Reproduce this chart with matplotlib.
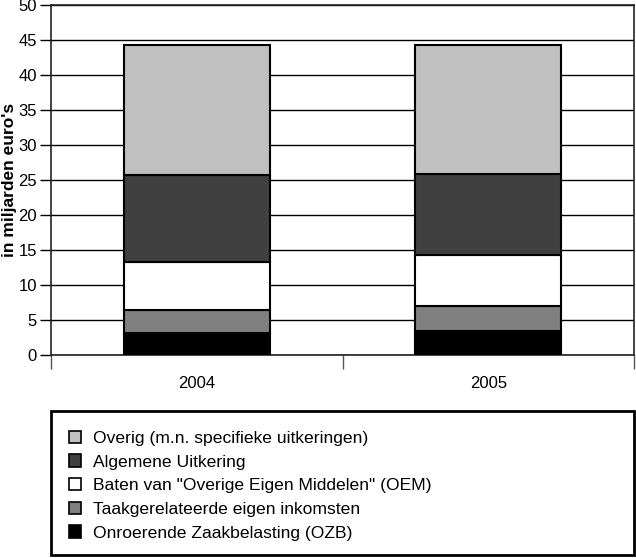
import matplotlib.pyplot as plt
from matplotlib.patches import Rectangle, Patch
import numpy as np

plt.rcParams['font.family'] = ['Liberation Sans', 'DejaVu Sans']

jaren = ['2004', '2005']
ozb = [3.1, 3.5]
taak = [3.3, 3.5]
oem = [6.9, 7.3]
algemeen = [12.4, 11.5]
overig = [18.6, 18.5]

reeksen = [
    ('Onroerende Zaakbelasting (OZB)', ozb, '#000000'),
    ('Taakgerelateerde eigen inkomsten', taak, '#808080'),
    ('Baten van "Overige Eigen Middelen" (OEM)', oem, '#ffffff'),
    ('Algemene Uitkering', algemeen, '#404040'),
    ('Overig (m.n. specifieke uitkeringen)', overig, '#c0c0c0'),
]

fig = plt.figure(figsize=(6.36, 5.58), dpi=100)
ax = fig.add_axes([51/636, 1-355/558, 583/636, 350/558])

x = np.arange(len(jaren))
onder = np.zeros(len(jaren))
for naam, waarden, kleur in reeksen:
    ax.bar(x, waarden, 0.5, bottom=onder, color=kleur, edgecolor='black',
           linewidth=1.5, zorder=3)
    onder += np.array(waarden)

ax.set_xlim(-0.5, 1.5)
ax.set_ylim(0, 50)
ax.set_yticks(range(0, 51, 5))
ax.yaxis.grid(True, color='black', linewidth=1.0, zorder=0)
ax.set_axisbelow(True)
ax.tick_params(axis='y', length=8, width=1, labelsize=12, pad=2)

# tick marks tussen de categorieen, labels in het midden
ax.set_xticks([-0.5, 0.5, 1.5])
ax.set_xticklabels([])
ax.tick_params(axis='x', length=10, width=1, color='#555555')
ax.set_xticks(x, minor=True)
ax.set_xticklabels(jaren, minor=True, fontsize=12)
ax.tick_params(axis='x', which='minor', length=0, pad=15)

for s in ax.spines.values():
    s.set_linewidth(1.2)
    s.set_color('#222222')

ax.set_ylabel("in miljarden euro's", fontsize=12.5, fontweight='bold', labelpad=1)

# legenda in een eigen kader
fig.patches.append(Rectangle((51/636, 3/558), 583/636, 144/558,
                             transform=fig.transFigure, fill=False,
                             edgecolor='black', linewidth=2))
handles = [Patch(facecolor=k, edgecolor='black', linewidth=1.2, label=n)
           for n, w, k in reversed(reeksen)]
fig.legend(handles=handles, loc='upper left',
           bbox_to_anchor=(60/636, 1-422/558), frameon=False, borderpad=0,
           fontsize=12.6, handlelength=0.7, handleheight=0.7,
           handletextpad=0.7, labelspacing=0.48)

fig.savefig('out.png', dpi=100)
